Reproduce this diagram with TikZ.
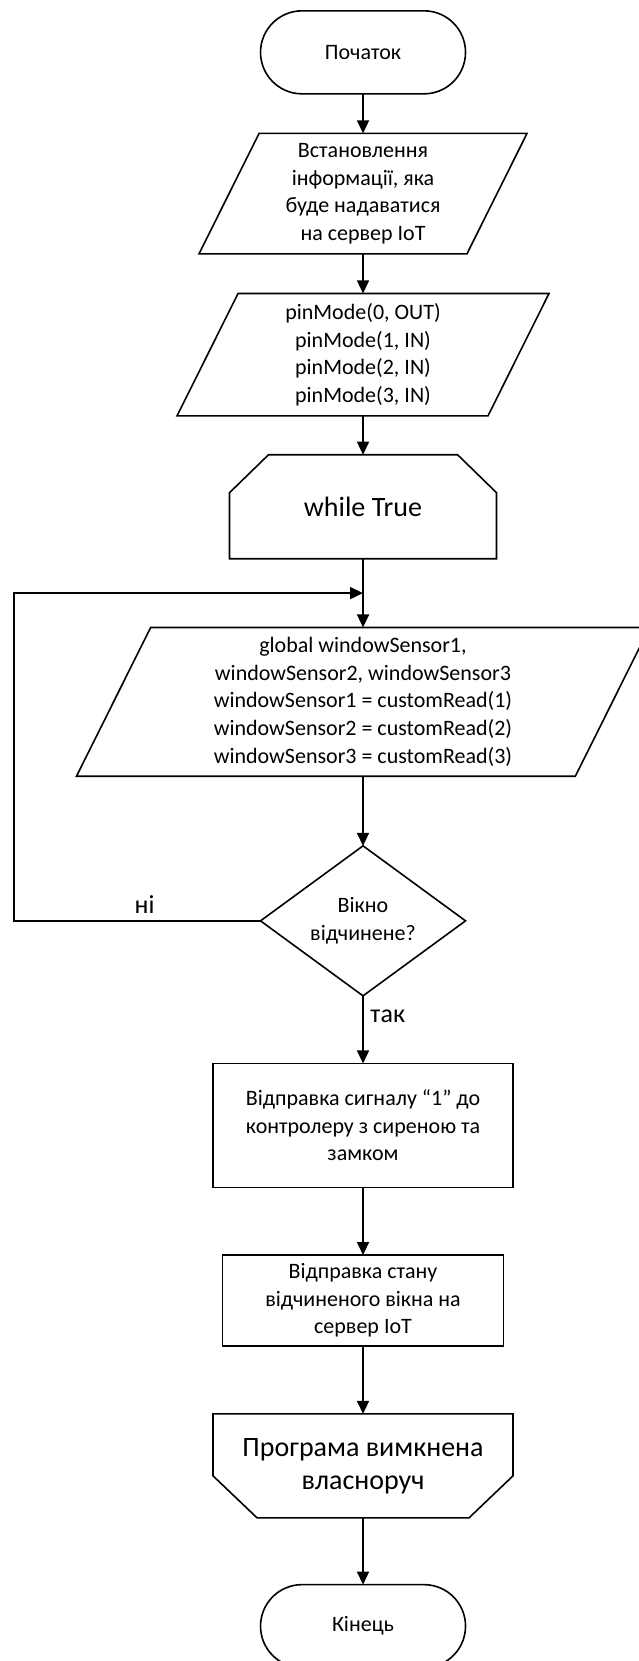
\documentclass[tikz,border=0pt]{standalone}
\usepackage{fontspec}
\setmainfont{Carlito}
\usetikzlibrary{shapes.geometric,shapes.misc,arrows.meta,calc}
\tikzstyle{io} = [trapezium, trapezium left angle = 63.5, trapezium right angle = 116.5, trapezium stretches body, text centered, inner xsep = 2pt, inner ysep = 5pt, draw = black]
\tikzstyle{process} = [rectangle, text centered, draw = black]
\tikzstyle{limit} = [rectangle, text centered, inner sep = 0pt, minimum height = 52pt, font = \fontsize{14}{16.5}\selectfont]
\tikzstyle{arrow} = [line width = 0.8pt, -{Triangle[length = 6.5pt, width = 6pt]}]

\begin{document}
\begin{tikzpicture}[
font=\fontsize{11}{13.8}\selectfont,
line width=0.8pt,
every matrix/.style={ampersand replacement=\&,row sep=33pt,inner sep=0pt,outer sep=0pt},
term/.style={draw,rounded rectangle,minimum width=102.5pt,minimum height=41.5pt},
decision/.style={draw,diamond,aspect=1.37,minimum width=102.5pt,minimum height=75pt,inner sep=1pt},
lbl/.style={font=\fontsize{13}{15}\selectfont},
every node/.style={align=center}]

\useasboundingbox (0,0) rectangle (319pt,-830.5pt);

\matrix (chart) at (181.5pt,-5pt) [anchor=north] {
\node[term] (start) {Початок}; \\[-14pt]
\node[io,minimum width=164pt] (info) {Встановлення\\інформації, яка\\буде надаватися\\на сервер IoT}; \\[-14pt]
\node[io,minimum width=186pt] (pin) {pinMode(0, OUT)\\pinMode(1, IN)\\pinMode(2, IN)\\pinMode(3, IN)}; \\[-14pt]
\node[limit,minimum width=133.5pt] (loop) {while True}; \\[1pt]
\node[io,minimum width=286.5pt] (read) {global windowSensor1,\\windowSensor2, windowSensor3\\windowSensor1 = customRead(1)\\windowSensor2 = customRead(2)\\windowSensor3 = customRead(3)}; \\[1pt]
\node[decision] (test) {Вікно\\відчинене?}; \\
\node[process,minimum width=150pt,minimum height=62pt] (alarm) {Відправка сигналу “1” до\\контролеру з сиреною та\\замком}; \\
\node[process,minimum width=140.5pt,minimum height=45.5pt] (send) {Відправка стану\\відчиненого вікна на\\сервер IoT}; \\[0.5pt]
\node[limit,minimum width=150pt] (stop) {Програма вимкнена\\власноруч}; \\
\node[term] (finish) {Кінець}; \\
};

% loop limit outlines
\draw ([xshift=19.5pt]loop.north west) -- ([xshift=-19.5pt]loop.north east) -- ([yshift=-19pt]loop.north east)
  -- (loop.south east) -- (loop.south west) -- ([yshift=-19pt]loop.north west) -- cycle;
\draw (stop.north west) -- (stop.north east) -- ([yshift=21pt]stop.south east)
  -- ([xshift=-22pt]stop.south east) -- ([xshift=22pt]stop.south west) -- ([yshift=21pt]stop.south west) -- cycle;

\coordinate (join) at ($(loop.south)!0.5!(read.north)$);
\coordinate (edge) at (7pt,0);

\draw[arrow] (start) -- (info);
\draw[arrow] (info) -- (pin);
\draw[arrow] (pin) -- (loop);
\draw (loop) -- (join);
\draw[arrow] (join) -- (read);
\draw[arrow] (read) -- (test);
\draw[arrow] (test.west) -- node[lbl,above,pos=0.47] {ні} (test.west -| edge) |- (join);
\draw[arrow] (test) -- node[lbl,right,pos=0.3] {так} (alarm);
\draw[arrow] (alarm) -- (send);
\draw[arrow] (send) -- (stop);
\draw[arrow] (stop) -- (finish);
\end{tikzpicture}
\end{document}
